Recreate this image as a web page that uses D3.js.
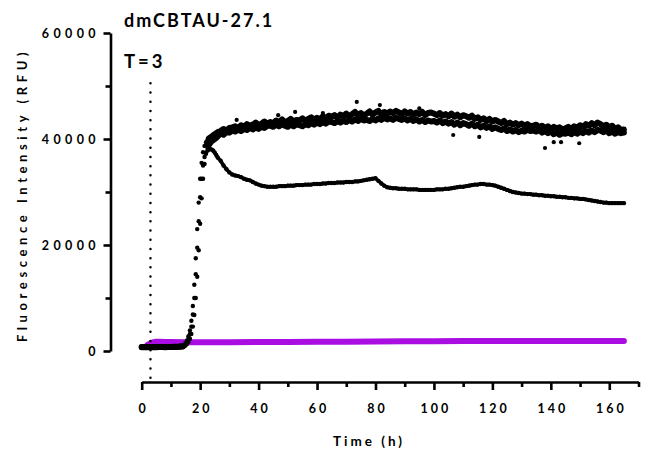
<!DOCTYPE html>
<html><head><meta charset="utf-8">
<script src="https://cdn.jsdelivr.net/npm/d3@7"></script>
<style>
body{margin:0;background:#fff;}
svg text{font-family:Lato,"Open Sans",sans-serif;font-weight:700;fill:#000;}
</style></head>
<body><svg id="c" width="645" height="463"></svg>
<script>
// ---- data ----
const title = "dmCBTAU-27.1";
const markerLabel = "T=3";
const markerTime = 3;
const yLabel = "Fluorescence Intensity (RFU)";
const xLabel = "Time (h)";
const xTicks = [0,20,40,60,80,100,120,140,160];
const xMinor = [10,30,50,70,90,110,130,150,170];
const yTicks = [0,20000,40000,60000];
const yMinor = [10000,30000,50000];

const hours = [0,1,2,3,4,5,6,7,8,9,10,11,12,13,
 14,14.5,15,15.5,16,16.5,17,17.5,18,18.5,19,19.5,20,20.5,21,21.5,22,22.5,23,23.5,24,24.5,25,25.5,26,
 27,28,29,30,31,32,33,34,35,36,37,38,39,40,41,42,43,44,45,46,47,48,49,50,51,52,53,54,55,56,57,58,59,60,
 61,62,63,64,65,66,67,68,69,70,71,72,73,74,75,76,77,78,79,80,81,82,83,84,85,86,87,88,89,90,
 91,92,93,94,95,96,97,98,99,100,101,102,103,104,105,106,107,108,109,110,111,112,113,114,115,116,117,118,119,120,
 121,122,123,124,125,126,127,128,129,130,131,132,133,134,135,136,137,138,139,140,141,142,143,144,145,146,147,148,149,150,
 151,152,153,154,155,156,157,158,159,160,161,162,163,164,165];

const replicateA = [760,750,760,750,760,750,760,760,750,760,770,780,800,840,
 900,1100,1500,2000,2800,3900,5700,8500,12500,17500,23000,28000,32500,35500,37500,38700,39400,39800,40100,40300,40500,40700,40900,41100,41300,
 41500,41900,41600,42100,42200,
 42400,42000,42600,42300,42800,42500,42700,43100,42600,42900,43300,42800,43200,
 43000,43500,43200,43700,43100,43400,43800,43300,43600,43500,
 43900,43400,43800,44100,43600,44000,43700,44300,43900,44400,44200,
 44500,44000,44600,44300,44800,44200,44700,45100,44500,44900,44400,44800,
 45200,44600,45000,45300,44700,45100,44800,45200,44900,45300,45000,
 44700,45200,44800,45100,44600,45000,44700,45100,44500,44900,45000,44800,
 44500,44900,44400,44700,44300,44800,44200,44600,44100,44500,44300,
 44000,44400,43800,44100,43600,43900,43400,43800,43300,43600,43300,
 43000,43400,42800,43100,42700,43000,42600,42900,42500,42800,42400,42500,
 42700,42200,42500,42100,42400,41900,42300,42000,42200,41800,42000,
 42300,41900,42400,42100,42600,42300,42800,42500,43000,42600,43100,42800,
 42400,42700,42200,42500,41900,42200,41700,41800];

const replicateB = [730,730,740,730,740,730,740,740,730,740,750,760,770,800,
 830,900,1050,1300,1700,2300,3200,4600,6800,10000,14000,19000,24000,28800,32500,35300,37200,38300,38900,39300,39600,39800,40000,40200,40500,
 41100,40800,41300,41200,41600,
 41400,41800,41500,41900,41700,42100,41800,42200,41900,42300,42100,42500,42500,
 42300,42700,42400,42800,42500,42300,42700,42400,42800,42600,
 42400,42800,42600,43000,42700,43100,42800,43200,42900,43300,43200,
 43000,43400,43100,43500,43200,43600,43300,43700,43400,43800,43500,43600,
 43400,43800,43500,43900,43600,44000,43700,43900,43600,44000,43800,
 43600,43900,43500,43800,43400,43700,43300,43600,43200,43500,43300,43400,
 43100,43500,43000,43300,42900,43200,42700,43100,42600,43000,42800,
 42500,42900,42400,42700,42200,42500,42100,42400,41900,42200,41900,
 41700,42000,41500,41800,41400,41700,41300,41600,41400,41800,41500,41600,
 41400,41700,41200,41500,41100,41400,40900,41200,40800,41100,41000,
 41200,40900,41300,41000,41400,41100,41500,41200,41600,41300,41700,41600,
 41300,41600,41100,41400,41000,41300,41100,41200];

const replicateC = [740,740,750,740,750,740,750,750,740,750,760,770,790,820,
 870,1000,1300,1700,2300,3200,4600,6900,10000,14500,19500,24500,29000,32500,35000,36600,37400,37800,38000,38100,38000,37800,37400,37000,36500,
 35900,35000,34300,33700,33300,33100,33000,32800,32500,32300,32200,31900,31600,31400,31200,31100,31000,31000,31000,31000,
 31100,31100,31100,31200,31200,31200,31300,31300,31300,31400,31400,31400,31500,31500,
 31500,31600,31600,31700,31700,31700,31800,31800,31800,31900,31900,31900,32000,32000,32100,32200,32300,32400,32500,32600,
 32100,31600,31200,30900,30800,30700,30700,30600,30600,30600,
 30500,30500,30500,30500,30400,30400,30400,30400,30400,30400,
 30500,30500,30500,30600,30600,30700,30800,30900,31000,31000,31100,31200,31300,31400,31400,31500,31500,31400,31400,31300,
 31200,31000,30800,30600,30400,30200,30000,29900,29800,29700,29700,29600,29600,29500,29500,29400,29400,29300,29300,29200,
 29200,29100,29100,29000,29000,28900,28900,28800,28800,28700,
 28700,28600,28500,28400,28300,28200,28100,28000,28000,27900,27900,27900,27900,27900,27900];

const strayTimes = [32.5,46.7,52.5,62,73.6,81.5,95,106.6,115.5,138,141,143.5,149.7];
const strayValues = [43600,44500,45100,44900,47000,46400,45800,40750,40400,38300,39400,39400,39200];

const controlTimes = [2,3,4,5,6,8,10,15,20,30,40,50,60,70,80,90,100,110,120,130,140,150,160,165];
const controlValues = [1150,1450,1650,1750,1750,1700,1700,1650,1650,1650,1700,1700,1750,1750,1800,1850,1850,1900,1900,1900,1900,1900,1900,1900];

// ---- chart ----
const svg = d3.select("#c");
const x = d3.scaleLinear().domain([0,170]).range([141.7,638.5]);
const y = d3.scaleLinear().domain([0,60000]).range([351,33]);
const xAxisY = 382;
const yAxisX = 110.5;
const ink = "#000";

// control (purple)
svg.append("path")
  .datum(controlTimes.map((t,i)=>[t,controlValues[i]]))
  .attr("fill","none").attr("stroke","#a90de2").attr("stroke-width",6)
  .attr("stroke-linecap","round").attr("stroke-linejoin","round")
  .attr("d", d3.line().x(d=>x(d[0])).y(d=>y(d[1])));

// dotted marker line
svg.append("line")
  .attr("x1",x(markerTime)).attr("x2",x(markerTime))
  .attr("y1",y(50500)).attr("y2",xAxisY-3)
  .attr("stroke",ink).attr("stroke-width",2.5)
  .attr("stroke-dasharray","0 9.2").attr("stroke-linecap","round");

// dense readings on the plateaus overlap into a continuous band; the fast rise stays as separate dots
const line = d3.line().defined(d=>d[0]<=14 || d[0]>=23).x(d=>x(d[0])).y(d=>y(d[1]));
[replicateA, replicateB, replicateC].forEach((vals,k)=>{
  const pts = hours.map((t,i)=>[t,vals[i]]);
  svg.append("path").datum(pts)
    .attr("fill","none").attr("stroke",ink).attr("stroke-width",k<2?6:3.6)
    .attr("stroke-linejoin","round").attr("stroke-linecap","round").attr("d",line);
  svg.append("g").selectAll("circle")
    .data(pts)
    .join("circle")
    .attr("cx",d=>x(d[0])).attr("cy",d=>y(d[1])).attr("r",2.2).attr("fill",ink);
});
svg.append("g").selectAll("circle")
  .data(strayTimes.map((t,i)=>[t,strayValues[i]]))
  .join("circle")
  .attr("cx",d=>x(d[0])).attr("cy",d=>y(d[1])).attr("r",2.1).attr("fill",ink);

// axes
function styleAxis(g){
  g.select(".domain").attr("stroke",ink).attr("stroke-width",2.6);
  g.selectAll(".tick line").attr("stroke",ink).attr("stroke-width",2.6);
  g.selectAll(".tick text").style("font-size","12.5px").style("letter-spacing","4.4px")
   .style("font-family","Lato,'Open Sans',sans-serif").style("font-weight","700");
}
const gy = svg.append("g").attr("transform",`translate(${yAxisX},0)`)
  .call(d3.axisLeft(y).tickValues(yTicks).tickFormat(d3.format("d")).tickSize(7).tickSizeOuter(0).tickPadding(3.5));
styleAxis(gy);
gy.selectAll(".tick text").attr("dy","0.36em");
svg.append("g").attr("transform",`translate(${yAxisX},0)`)
  .call(d3.axisLeft(y).tickValues(yMinor).tickFormat("").tickSize(5).tickSizeOuter(0))
  .call(g=>{g.select(".domain").remove(); g.selectAll(".tick line").attr("stroke",ink).attr("stroke-width",2.6);});

const gx = svg.append("g").attr("transform",`translate(0,${xAxisY})`)
  .call(d3.axisBottom(x).tickValues(xTicks).tickSize(8).tickSizeOuter(0).tickPadding(14));
styleAxis(gx);
gx.selectAll(".tick text").style("letter-spacing","3px").attr("dx","1.5px");
svg.append("g").attr("transform",`translate(0,${xAxisY})`)
  .call(d3.axisBottom(x).tickValues(xMinor).tickFormat("").tickSize(5).tickSizeOuter(0))
  .call(g=>{g.select(".domain").remove(); g.selectAll(".tick line").attr("stroke",ink).attr("stroke-width",2.6);});

// texts
svg.append("text").attr("x",124).attr("y",27).style("font-size","18px").style("letter-spacing","2px").text(title);
svg.append("text").attr("x",124).attr("y",68).style("font-size","18.5px").style("letter-spacing","3px").text(markerLabel);
svg.append("text").attr("transform","translate(27,195) rotate(-90)").attr("text-anchor","middle")
  .style("font-size","13px").style("letter-spacing","4.6px").text(yLabel);
svg.append("text").attr("x",369).attr("y",446).attr("text-anchor","middle")
  .style("font-size","13.5px").style("letter-spacing","3px").text(xLabel);
</script></body></html>
